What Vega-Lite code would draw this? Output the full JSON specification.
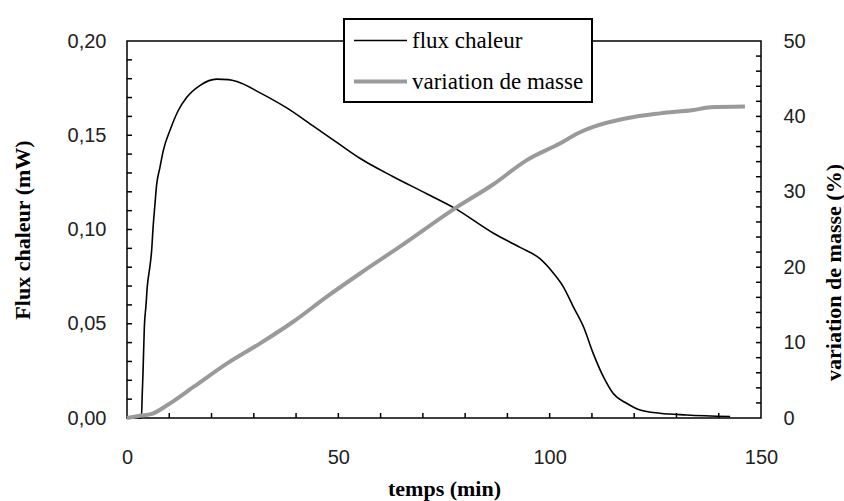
{
  "$schema": "https://vega.github.io/schema/vega-lite/v6.json",
  "width": 634,
  "height": 377,
  "autosize": {"type": "none"},
  "padding": {"left": 127, "top": 41, "right": 83, "bottom": 83},
  "background": "white",
  "config": {
    "view": {"stroke": "black", "strokeWidth": 1.5},
    "axis": {
      "domain": false,
      "ticks": false,
      "grid": false,
      "labelFont": "Liberation Sans",
      "labelFontSize": 20,
      "labelColor": "#222222",
      "labelOverlap": false,
      "labelFlush": false,
      "titleFont": "Liberation Serif",
      "titleFontSize": 22,
      "titleFontWeight": "bold",
      "titleColor": "black"
    },
    "tick": {"color": "black", "thickness": 1.5, "opacity": 1},
    "legend": {
      "orient": "none",
      "legendX": 217,
      "legendY": -22,
      "symbolType": "M-1,0H3.24",
      "symbolSize": 625,
      "labelFont": "Liberation Serif",
      "labelFontSize": 23,
      "labelLimit": 400,
      "labelColor": "black",
      "labelOffset": 31,
      "fillColor": "white",
      "strokeColor": "black",
      "strokeWidth": 2,
      "padding": 8,
      "rowPadding": 14
    }
  },
  "datasets": {
    "series": [
      {"t": 0, "v": 0, "series": "flux chaleur"},
      {"t": 3.4, "v": 0, "series": "flux chaleur"},
      {"t": 3.6, "v": 0.012, "series": "flux chaleur"},
      {"t": 3.8, "v": 0.025, "series": "flux chaleur"},
      {"t": 4.1, "v": 0.048, "series": "flux chaleur"},
      {"t": 4.5, "v": 0.06, "series": "flux chaleur"},
      {"t": 4.8, "v": 0.0697, "series": "flux chaleur"},
      {"t": 5.4, "v": 0.08, "series": "flux chaleur"},
      {"t": 5.8, "v": 0.088, "series": "flux chaleur"},
      {"t": 6.2, "v": 0.102, "series": "flux chaleur"},
      {"t": 6.6, "v": 0.113, "series": "flux chaleur"},
      {"t": 7.0, "v": 0.1235, "series": "flux chaleur"},
      {"t": 7.8, "v": 0.133, "series": "flux chaleur"},
      {"t": 8.6, "v": 0.142, "series": "flux chaleur"},
      {"t": 10.2, "v": 0.1528, "series": "flux chaleur"},
      {"t": 12.1, "v": 0.163, "series": "flux chaleur"},
      {"t": 14.1, "v": 0.17, "series": "flux chaleur"},
      {"t": 17.3, "v": 0.1765, "series": "flux chaleur"},
      {"t": 21.2, "v": 0.1798, "series": "flux chaleur"},
      {"t": 24, "v": 0.1795, "series": "flux chaleur"},
      {"t": 26, "v": 0.1785, "series": "flux chaleur"},
      {"t": 31.5, "v": 0.1725, "series": "flux chaleur"},
      {"t": 37.8, "v": 0.1645, "series": "flux chaleur"},
      {"t": 44.1, "v": 0.1548, "series": "flux chaleur"},
      {"t": 50.4, "v": 0.145, "series": "flux chaleur"},
      {"t": 55.1, "v": 0.1378, "series": "flux chaleur"},
      {"t": 63, "v": 0.128, "series": "flux chaleur"},
      {"t": 70.9, "v": 0.119, "series": "flux chaleur"},
      {"t": 77.6, "v": 0.1112, "series": "flux chaleur"},
      {"t": 86.7, "v": 0.098, "series": "flux chaleur"},
      {"t": 93, "v": 0.0905, "series": "flux chaleur"},
      {"t": 97.7, "v": 0.0845, "series": "flux chaleur"},
      {"t": 100.9, "v": 0.0768, "series": "flux chaleur"},
      {"t": 103.2, "v": 0.0697, "series": "flux chaleur"},
      {"t": 105.6, "v": 0.059, "series": "flux chaleur"},
      {"t": 108, "v": 0.0484, "series": "flux chaleur"},
      {"t": 110.3, "v": 0.0343, "series": "flux chaleur"},
      {"t": 112.7, "v": 0.0219, "series": "flux chaleur"},
      {"t": 115, "v": 0.0131, "series": "flux chaleur"},
      {"t": 118.2, "v": 0.0078, "series": "flux chaleur"},
      {"t": 121.4, "v": 0.0042, "series": "flux chaleur"},
      {"t": 126.1, "v": 0.0025, "series": "flux chaleur"},
      {"t": 132.4, "v": 0.0016, "series": "flux chaleur"},
      {"t": 142.7, "v": 0.0008, "series": "flux chaleur"},
      {"t": 0, "v": 0, "series": "variation de masse"},
      {"t": 3.1, "v": 0.3, "series": "variation de masse"},
      {"t": 5.9, "v": 0.55, "series": "variation de masse"},
      {"t": 9.5, "v": 1.7, "series": "variation de masse"},
      {"t": 15.8, "v": 4.15, "series": "variation de masse"},
      {"t": 23.7, "v": 7.25, "series": "variation de masse"},
      {"t": 31.5, "v": 9.9, "series": "variation de masse"},
      {"t": 39.4, "v": 12.8, "series": "variation de masse"},
      {"t": 47.3, "v": 16.1, "series": "variation de masse"},
      {"t": 55.2, "v": 19.2, "series": "variation de masse"},
      {"t": 65, "v": 22.9, "series": "variation de masse"},
      {"t": 77.6, "v": 27.8, "series": "variation de masse"},
      {"t": 86.7, "v": 31.0, "series": "variation de masse"},
      {"t": 94.6, "v": 34.2, "series": "variation de masse"},
      {"t": 102.4, "v": 36.4, "series": "variation de masse"},
      {"t": 106.8, "v": 37.8, "series": "variation de masse"},
      {"t": 110.3, "v": 38.6, "series": "variation de masse"},
      {"t": 118.2, "v": 39.75, "series": "variation de masse"},
      {"t": 126.1, "v": 40.4, "series": "variation de masse"},
      {"t": 134, "v": 40.85, "series": "variation de masse"},
      {"t": 138, "v": 41.2, "series": "variation de masse"},
      {"t": 146.2, "v": 41.3, "series": "variation de masse"}
    ],
    "xticks": [
      {"t": 10}, {"t": 20}, {"t": 30}, {"t": 40}, {"t": 50}, {"t": 60}, {"t": 70},
      {"t": 80}, {"t": 90}, {"t": 100}, {"t": 110}, {"t": 120}, {"t": 130}, {"t": 140}
    ],
    "leftticks": [
      {"v": 0.01}, {"v": 0.02}, {"v": 0.03}, {"v": 0.04}, {"v": 0.05}, {"v": 0.06}, {"v": 0.07},
      {"v": 0.08}, {"v": 0.09}, {"v": 0.1}, {"v": 0.11}, {"v": 0.12}, {"v": 0.13}, {"v": 0.14},
      {"v": 0.15}, {"v": 0.16}, {"v": 0.17}, {"v": 0.18}, {"v": 0.19}
    ],
    "rightticks": [
      {"v": 2}, {"v": 4}, {"v": 6}, {"v": 8}, {"v": 10}, {"v": 12}, {"v": 14}, {"v": 16},
      {"v": 18}, {"v": 20}, {"v": 22}, {"v": 24}, {"v": 26}, {"v": 28}, {"v": 30}, {"v": 32},
      {"v": 34}, {"v": 36}, {"v": 38}, {"v": 40}, {"v": 42}, {"v": 44}, {"v": 46}, {"v": 48}
    ]
  },
  "layer": [
    {
      "layer": [
        {
          "data": {"name": "series"},
          "transform": [{"filter": "datum.series == 'flux chaleur'"}],
          "mark": {"type": "line", "interpolate": "monotone"},
          "encoding": {
            "x": {
              "field": "t",
              "type": "quantitative",
              "scale": {"domain": [0, 150], "nice": false},
              "axis": {
                "title": "temps (min)",
                "values": [0, 50, 100, 150],
                "labelPadding": 29,
                "titleX": 317,
                "titleY": 70,
                "titleBaseline": "middle"
              }
            },
            "y": {
              "field": "v",
              "type": "quantitative",
              "scale": {"domain": [0, 0.2], "nice": false},
              "axis": {
                "title": "Flux chaleur (mW)",
                "orient": "left",
                "values": [0, 0.05, 0.1, 0.15, 0.2],
                "labelExpr": "replace(format(datum.value, '.2f'), '.', ',')",
                "labelPadding": 21,
                "titleX": -105,
                "titleY": 188.5,
                "titleAngle": -90,
                "titleBaseline": "middle"
              }
            },
            "color": {
              "field": "series",
              "type": "ordinal",
              "scale": {"domain": ["flux chaleur", "variation de masse"], "range": ["#000000", "#9a9a9a"]},
              "legend": {"title": null}
            },
            "strokeWidth": {
              "field": "series",
              "type": "ordinal",
              "scale": {"domain": ["flux chaleur", "variation de masse"], "range": [1.6, 4]},
              "legend": {"title": null}
            }
          }
        },
        {
          "data": {"name": "xticks"},
          "mark": {"type": "tick", "orient": "vertical", "size": 10, "clip": true},
          "encoding": {
            "x": {"field": "t", "type": "quantitative"},
            "y": {"datum": 0, "type": "quantitative"}
          }
        },
        {
          "data": {"name": "leftticks"},
          "mark": {"type": "tick", "orient": "horizontal", "size": 10, "clip": true},
          "encoding": {
            "x": {"datum": 0, "type": "quantitative"},
            "y": {"field": "v", "type": "quantitative"}
          }
        }
      ]
    },
    {
      "layer": [
        {
          "data": {"name": "series"},
          "transform": [{"filter": "datum.series == 'variation de masse'"}],
          "mark": {"type": "line", "interpolate": "monotone"},
          "encoding": {
            "x": {"field": "t", "type": "quantitative"},
            "y": {
              "field": "v",
              "type": "quantitative",
              "scale": {"domain": [0, 50], "nice": false},
              "axis": {
                "title": "variation de masse (%)",
                "orient": "right",
                "values": [0, 10, 20, 30, 40, 50],
                "labelPadding": 22,
                "titleX": 72,
                "titleY": 231,
                "titleAngle": 270,
                "titleBaseline": "middle"
              }
            },
            "color": {"field": "series", "type": "ordinal"},
            "strokeWidth": {"field": "series", "type": "ordinal"}
          }
        },
        {
          "data": {"name": "rightticks"},
          "mark": {"type": "tick", "orient": "horizontal", "size": 10, "clip": true},
          "encoding": {
            "x": {"datum": 150, "type": "quantitative"},
            "y": {"field": "v", "type": "quantitative"}
          }
        }
      ]
    }
  ],
  "resolve": {"scale": {"y": "independent"}}
}
